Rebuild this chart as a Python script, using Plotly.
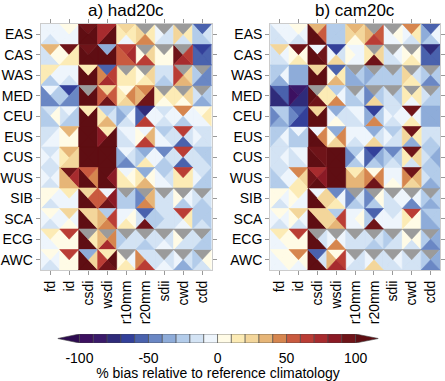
import plotly.graph_objects as go

regions = ["EAS", "CAS", "WAS", "MED", "CEU", "EUS", "CUS", "WUS", "SIB", "SCA", "ECG", "AWC"]
indices = ["fd", "id", "csdi", "wsdi", "r10mm", "r20mm", "sdii", "cwd", "cdd"]
N = None  # no data (grey)

# % bias per cell, 4 seasons as (top, right, bottom, left) triangles
# columns: fd, id, csdi, wsdi, r10mm, r20mm, sdii, cwd, cdd
had_EAS = [(-5, -5, -15, -5), (5, -5, -5, -5), (95, 110, 110, 110), (75, 110, 110, 75), (25, 15, -5, 15), (N, 15, 45, 25), (N, -15, -15, -5), (N, 15, -15, 25), (-55, -15, -25, -25)]
had_CAS = [(35, 5, -15, -15), (95, 15, 15, 5), (90, 110, 110, 110), (-35, 110, 110, 110), (65, 75, 55, 55), (N, 25, 65, 5), (N, 5, 5, 5), (N, 65, 75, 95), (-65, -55, -55, -55)]
had_WAS = [(15, -5, -25, 15), (-5, -5, -15, -5), (15, 110, 110, 110), (-55, 65, 75, 45), (N, 15, 15, 15), (N, 25, 15, 5), (-15, -15, -25, -15), (N, 25, 35, 65), (N, -45, -45, -25)]
had_MED = [(-5, -25, -45, -45), (-65, -45, -45, -25), (N, 110, 110, 110), (25, 55, 95, 55), (5, 45, 25, 15), (45, 95, 95, 35), (N, 15, 5, 15), (N, 25, 5, 15), (N, -25, -35, -15)]
had_CEU = [(-15, 5, -25, -25), (-5, -25, -25, -15), (15, 110, 110, 110), (-25, -15, 35, 15), (-25, -5, -15, -35), (-75, -5, 65, -55), (-15, -5, -15, -5), (45, -5, -25, -5), (5, 15, -5, -5)]
had_EUS = [(-15, -5, -5, -15), (35, 5, 5, 5), (110, 110, 110, 110), (15, 110, 110, 85), (-5, -5, -15, -15), (-5, 35, 65, 5), (-25, -15, -5, -5), (65, -15, -55, -15), (-15, -15, -15, -5)]
had_CUS = [(-15, -5, -15, -5), (35, 25, 25, 15), (110, 110, 110, 110), (110, 110, 110, 110), (-5, -15, -45, -35), (-35, -5, 15, -25), (-45, -15, -25, -5), (65, -15, -55, -15), (-25, -25, -15, -15)]
had_WUS = [(-15, -5, -15, -5), (95, 75, 35, 35), (55, 45, 110, 110), (110, 85, 110, 110), (-5, 5, 15, 15), (-35, 5, 35, 15), (-25, -15, -5, -5), (65, 15, 15, 15), (-15, -25, -25, -5)]
had_SIB = [(5, -5, -15, 5), (15, -5, -5, -5), (25, 55, 110, 110), (-5, 85, 95, 55), (N, -25, -25, -25), (N, 35, 45, -45), (N, -15, -15, -15), (N, -5, -25, 5), (N, -15, -25, -15)]
had_SCA = [(5, -5, -15, -5), (25, -5, 5, -5), (25, 25, 110, 110), (-25, 65, 45, 35), (-5, 5, 15, -5), (-55, -25, 95, -15), (-15, -15, -15, -25), (65, 15, -5, -15), (-25, -25, -15, -25)]
had_ECG = [(15, 5, -5, -5), (65, 5, 5, 5), (N, 15, 110, 110), (N, 45, 75, 35), (N, -15, -15, -25), (N, -15, -25, -15), (N, -15, -5, -15), (N, -15, -15, 5), (N, -25, -25, -15)]
had_AWC = [(5, -5, -15, -5), (65, 5, 5, 5), (-35, 25, 110, 110), (15, 110, 95, 65), (N, -5, 15, 5), (-15, -15, 65, 45), (N, -15, -5, -15), (N, -15, -35, -5), (N, 5, -15, -25)]

cam_EAS = [(-5, -5, -15, -15), (5, -5, -15, -5), (35, 55, 110, 110), (-25, -25, -25, -25), (35, 25, 5, 25), (N, 55, 65, 35), (N, 5, -5, -5), (45, 15, -15, -5), (-55, -5, -25, -35)]
cam_CAS = [(25, -5, -15, -15), (95, 5, 15, 5), (-5, 95, 110, 110), (-65, -15, 25, -5), (-5, -5, -5, 5), (N, 25, 95, 15), (N, -5, -15, -15), (N, 5, 15, 5), (-75, -55, -55, -55)]
cam_WAS = [(-25, -5, -35, -25), (-35, -35, -35, -35), (25, 110, 110, 110), (-55, 15, 35, 5), (N, -25, -35, -35), (N, -25, -25, -35), (N, -25, -25, -25), (N, -15, 15, 25), (N, -25, -45, -25)]
cam_MED = [(-55, -55, -75, -75), (-85, -75, -75, -95), (N, 15, 95, 110), (-25, -5, 45, 15), (N, -15, -25, -25), (N, -25, 25, -45), (N, -25, -15, -15), (N, 15, -5, 15), (N, -25, -25, -15)]
cam_CEU = [(-25, -25, -35, -45), (-55, -65, -65, -45), (25, 110, 110, 110), (-35, -15, 5, -5), (-5, -5, -15, -15), (-65, -25, 45, -35), (-15, -5, -15, -5), (95, -5, 15, -5), (-35, -35, -35, -35)]
cam_EUS = [(-25, -5, -15, -25), (-5, -25, -25, -25), (-5, 45, 110, 110), (-35, 45, 25, 5), (-5, -5, -15, -5), (-35, -15, 25, -5), (-25, -15, -15, -5), (95, 15, -35, 25), (-15, -15, -25, -15)]
cam_CUS = [(-15, -5, -15, -15), (-5, -5, -15, -15), (95, 95, 110, 110), (110, 110, 110, 110), (-25, -5, -25, -45), (-65, -35, -25, -55), (-45, -25, -15, -25), (95, 25, -15, 15), (-25, -35, -25, -15)]
cam_WUS = [(-15, -5, -25, -25), (45, 25, 15, -5), (75, 85, 110, 95), (110, 110, 110, 110), (15, 35, 35, 35), (5, 45, 95, 45), (-5, -5, 5, -5), (95, 35, 25, 45), (-25, -25, -35, -15)]
cam_SIB = [(5, -5, -15, 5), (15, -5, -5, 5), (-5, 25, 110, 110), (-45, -5, 15, 25), (N, -15, -25, -45), (N, 5, -25, -45), (N, -5, -15, -15), (N, -5, -45, -5), (N, -25, -35, -25)]
cam_SCA = [(5, -5, -15, -5), (25, -5, -15, 5), (25, 25, 110, 110), (-25, 65, 35, 25), (-5, 5, -5, -5), (-55, -5, 95, -25), (-15, -5, -5, -5), (65, 5, 5, 15), (-25, -25, -35, -35)]
cam_ECG = [(15, 5, -5, -5), (65, 5, 5, 5), (N, -15, 110, 110), (N, -5, 45, -5), (N, -15, -15, -15), (N, -15, -25, -15), (N, -15, -15, -25), (N, 5, -15, 5), (N, -35, -45, -25)]
cam_AWC = [(5, 5, -5, -5), (45, 5, -5, 5), (-55, -15, 110, 110), (5, 65, 75, 35), (N, -15, -15, -5), (N, -15, 25, -5), (N, -5, -15, -15), (N, -15, -15, -15), (N, -35, -45, -25)]

had20c = [had_EAS, had_CAS, had_WAS, had_MED, had_CEU, had_EUS, had_CUS, had_WUS, had_SIB, had_SCA, had_ECG, had_AWC]
cam20c = [cam_EAS, cam_CAS, cam_WAS, cam_MED, cam_CEU, cam_EUS, cam_CUS, cam_WUS, cam_SIB, cam_SCA, cam_ECG, cam_AWC]

levels = list(range(-100, 101, 10))
colors = ["#2d0b50", "#3c1060", "#3a1a6a", "#2f2b7a", "#33409a", "#4a62ad", "#6a87c4", "#8eacd9",
          "#b3ccea", "#d3e3f4", "#eef5fc", "#fffbe6", "#fcebb5", "#f3d69b", "#e6b577", "#d6864f",
          "#c95a3f", "#ba3d35", "#a72b2e", "#8b1a25", "#6f1419", "#5f0e13"]
grey = "#9b9b9b"


def color_of(v):
    if v is None:
        return grey
    if v < -100:
        return colors[0]
    if v >= 100:
        return colors[-1]
    return colors[1 + int((v + 100) // 10)]


def triangles(x, y):
    c = (x, y)
    tl, tr = (x - .5, y - .5), (x + .5, y - .5)
    bl, br = (x - .5, y + .5), (x + .5, y + .5)
    return [(tl, tr, c), (tr, br, c), (bl, br, c), (tl, bl, c)]


def panel_traces(data, xa, ya):
    groups = {}
    for j, row in enumerate(data):
        for i, cell in enumerate(row):
            for v, tri in zip(cell, triangles(i, j)):
                col = color_of(v)
                xs, ys = groups.setdefault(col, ([], []))
                for p in tri + (tri[0],):
                    xs.append(p[0]); ys.append(p[1])
                xs.append(None); ys.append(None)
    out = []
    for col, (xs, ys) in groups.items():
        out.append(go.Scatter(x=xs, y=ys, mode="lines", fill="toself", fillcolor=col,
                              line=dict(color=col, width=0.6), xaxis=xa, yaxis=ya,
                              hoverinfo="skip", showlegend=False))
    return out


fig = go.Figure()
for t in panel_traces(had20c, "x", "y") + panel_traces(cam20c, "x2", "y2"):
    fig.add_trace(t)

# colour bar with end arrows
for k in range(len(colors)):
    if k == 0:
        xs, ys = [-100, -115.8, -100, -100], [0, 0.5, 1, 0]
    elif k == len(colors) - 1:
        xs, ys = [100, 116.5, 100, 100], [0, 0.5, 1, 0]
    else:
        lo, hi = levels[k - 1], levels[k]
        xs, ys = [lo, hi, hi, lo, lo], [0, 0, 1, 1, 0]
    fig.add_trace(go.Scatter(x=xs, y=ys, mode="lines", fill="toself", fillcolor=colors[k],
                             line=dict(color="#444", width=0.6), xaxis="x3", yaxis="y3",
                             hoverinfo="skip", showlegend=False))

font = dict(family="Liberation Sans, Arial, sans-serif", size=14, color="black")
W, H = 445, 381
xax = dict(range=[-0.5, 8.5], tickvals=list(range(9)), ticktext=indices, tickangle=-90,
           ticks="outside", ticklen=4, tickcolor="#999", mirror="allticks", showline=True,
           linecolor="#ccc", showgrid=False, zeroline=False, tickfont=font)
yax = dict(range=[11.5, -0.5], tickvals=list(range(12)), ticktext=regions,
           ticks="outside", ticklen=4, tickcolor="#999", mirror="allticks", showline=True,
           linecolor="#ccc", showgrid=False, zeroline=False, tickfont=font)

fig.update_layout(
    width=W, height=H, margin=dict(l=0, r=0, t=0, b=0),
    paper_bgcolor="white", plot_bgcolor="white", font=font,
    xaxis=dict(xax, domain=[40 / W, 212 / W], anchor="y"),
    yaxis=dict(yax, domain=[1 - 270 / H, 1 - 24 / H], anchor="x"),
    xaxis2=dict(xax, domain=[271 / W, 442 / W], anchor="y2"),
    yaxis2=dict(yax, domain=[1 - 270 / H, 1 - 24 / H], anchor="x2"),
    xaxis3=dict(domain=[57 / W, 380 / W], range=[-115.8, 116.5], anchor="y3",
                tickvals=[-100, -50, 0, 50, 100], ticktext=["-100", "-50", "0", "50", "100"],
                showgrid=False, zeroline=False, showline=False, ticks="", tickfont=font,
                ticklabelstandoff=5,
                title=dict(text="% bias relative to reference climatology", font=font, standoff=4)),
    yaxis3=dict(domain=[1 - 343 / H, 1 - 334 / H], range=[0, 1], anchor="x3", visible=False),
    annotations=[
        dict(text="a) had20c", x=126 / W, y=1 - 10 / H, xref="paper", yref="paper",
             showarrow=False, font=dict(font, size=17), xanchor="center", yanchor="middle"),
        dict(text="b) cam20c", x=356 / W, y=1 - 10 / H, xref="paper", yref="paper",
             showarrow=False, font=dict(font, size=17), xanchor="center", yanchor="middle"),
    ],
)

fig.write_html("out.html", config={"displayModeBar": False},
               post_script="document.body.style.margin='0';")
